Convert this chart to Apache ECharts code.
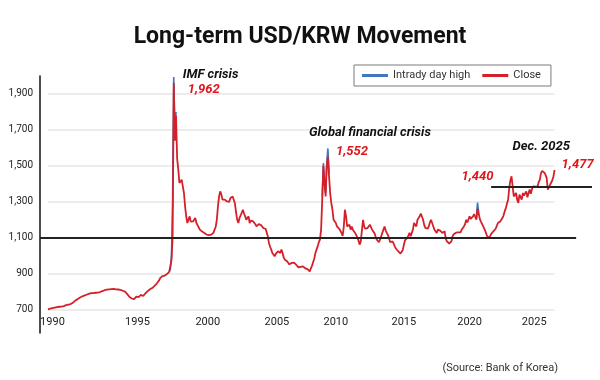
<!DOCTYPE html>
<html><head><meta charset="utf-8">
<script src="https://cdn.jsdelivr.net/npm/echarts@6/dist/echarts.min.js"></script>
<style>html,body{margin:0;padding:0;background:#fff}#c{width:600px;height:380px}</style>
</head><body><div id="c"></div>
<script>
// ---- data ----
// 1990-1997: 14 samples per year (six-day trading weeks give more points per year)
const closePre = [
  702,703,705,706,708,709,711,712,714,715,716,717,717,718,
  720,722,725,727,728,730,731,733,738,745,750,753,758,762,
  766,770,773,776,778,780,783,786,788,790,792,793,792,793,
  794,793,795,797,798,800,803,805,808,810,811,812,813,812,
  814,815,815,814,813,814,812,811,810,808,805,802,800,795,
  786,778,770,765,762,760,758,762,772,768,770,771,782,779,
  776,780,790,800,803,808,813,816,820,826,832,838,845,852,
  862,875,885,887,888,889,892,898,904,910,920,975,1100,1962
];
// monthly closes, Jan 1998 - Dec 2009
const close1998to2009 = [
  1640,1780,1540,1480,1405,1415,1423,1386,1349,1275,1219,1182,
  1200,1219,1190,1182,1191,1200,1210,1182,1170,1163,1145,1138,
  1135,1130,1127,1122,1118,1117,1115,1117,1117,1122,1127,1145,
  1160,1200,1275,1330,1358,1340,1312,1315,1312,1305,1302,1294,
  1300,1321,1326,1330,1330,1290,1240,1200,1182,1210,1225,1238,
  1256,1235,1219,1200,1210,1219,1182,1195,1200,1191,1182,1175,
  1163,1170,1176,1182,1170,1163,1154,1154,1150,1145,1108,1071,
  1050,1034,1015,1006,997,1010,1015,1025,1020,1015,1034,1015,
  990,978,972,969,960,952,950,960,969,962,955,950,
  940,935,932,938,940,941,935,930,932,925,918,913,
  930,945,965,985,1015,1035,1052,1075,1089,1145,1312,1500,
  1400,1330,1500,1552,1442,1349,1294,1256,1200,1190,1182,1163
];
// monthly closes, Jan 2010 - Dec 2025
const close2010to2025 = [
  1163,1150,1140,1127,1110,1160,1256,1219,1163,1170,1173,1145,
  1163,1145,1140,1127,1115,1105,1085,1062,1080,1140,1200,1163,
  1150,1145,1154,1165,1173,1182,1145,1140,1127,1108,1090,1080,
  1075,1089,1108,1127,1145,1163,1140,1127,1115,1108,1075,1071,
  1080,1068,1052,1040,1030,1025,1018,1012,1006,1030,1060,1085,
  1090,1099,1112,1127,1108,1115,1145,1182,1175,1163,1200,1195,
  1219,1235,1225,1200,1170,1155,1145,1150,1163,1185,1200,1195,
  1163,1145,1135,1127,1145,1136,1140,1145,1127,1130,1136,1095,
  1080,1071,1068,1071,1080,1108,1120,1127,1128,1136,1130,1127,
  1130,1145,1155,1163,1175,1200,1185,1182,1219,1205,1200,1219,
  1232,1238,1200,1262,1238,1205,1190,1182,1163,1150,1135,1117,
  1100,1092,1108,1120,1127,1136,1127,1150,1160,1182,1188,1191,
  1200,1210,1225,1247,1265,1290,1312,1377,1420,1442,1386,1330,
  1320,1349,1310,1294,1340,1325,1312,1349,1335,1330,1358,1325,
  1330,1368,1345,1370,1386,1377,1385,1395,1386,1410,1423,1460,
  1472,1479,1462,1450,1433,1368,1380,1395,1405,1420,1442,1477
];
// intraday highs where they stand out above the close
const highDates  = ['1997-p10','1997-p11','1997-p12','1997-p13','1997-p14','1998-01','1998-02',
                    '2008-11','2008-12','2009-01','2009-02','2009-03','2009-04','2009-05',
                    '2020-03','2020-04','2020-05'];
const highValues = [912,925,1000,1300,1995,1700,1800,
                    1330,1515,1420,1350,1520,1597,1460,
                    1210,1296,1245];

const yTicks = [700,900,1100,1300,1500,1700,1900];
const xTickLabels = ['1990','1995','2000','2005','2010','2015','2020','2025'];
const xTickAt     = ['1990-p05','1995-p10','2000-06','2005-07','2009-11','2014-11','2019-09','2024-06'];

const refLevels = [1100, 1385];
const refFrom   = ['1989-p08', '2021-04'];
const refTo     = ['2027-07', '2028-09'];

const annotations = [
  {at:'1997-p14', v:1962, text:'IMF crisis', red:false, pos:[9,-8], align:'left'},
  {at:'1997-p14', v:1962, text:'1,962', red:true, pos:[14,7], align:'left'},
  {at:'2009-04', v:1552, text:'Global financial crisis', red:false, pos:[-19,-24], align:'left'},
  {at:'2009-04', v:1552, text:'1,552', red:true, pos:[8,-5], align:'left'},
  {at:'2022-10', v:1442, text:'1,440', red:true, pos:[-18,0], align:'right'},
  {at:'2025-12', v:1477, text:'Dec. 2025', red:false, pos:[-42,-23], align:'left'},
  {at:'2025-12', v:1477, text:'1,477', red:true, pos:[7,-5], align:'left'}
];

// ---- categories ----
const pad2 = n => String(n).padStart(2,'0');
const padBefore = []; for (let p=8;p<=14;p++) padBefore.push('1989-p'+pad2(p));
const preCats = []; for (let y=1990;y<=1997;y++) for (let p=1;p<=14;p++) preCats.push(y+'-p'+pad2(p));
const monthCats = []; for (let y=1998;y<=2028;y++) for (let m=1;m<=12;m++) monthCats.push(y+'-'+pad2(m));
const postCount = close1998to2009.length + close2010to2025.length;
const axisCats = padBefore.concat(preCats, monthCats.slice(0, monthCats.indexOf(refTo[1])+1));
const dataCats = preCats.concat(monthCats.slice(0, postCount));
const closeAll = closePre.concat(close1998to2009, close2010to2025);
const closeData = dataCats.map((c,k)=>[c, closeAll[k]]);
const highMap = {}; highDates.forEach((d,k)=>{highMap[d]=highValues[k];});
const highData = dataCats.map(c=>[c, highMap[c]!==undefined ? highMap[c] : null]);
const tickMap = {}; xTickAt.forEach((d,k)=>{tickMap[d]=xTickLabels[k];});

const FONT = "Roboto, 'Liberation Sans', sans-serif";
const RED = '#d4202a', BLUE = '#3f78c0';

const chart = echarts.init(document.getElementById('c'), null, {renderer:'canvas'});
chart.setOption({
  animation:false,
  backgroundColor:'#fff',
  title:[
    {text:'Long-term USD/KRW Movement', left:'center', top:21,
     textStyle:{fontFamily:FONT, fontSize:23, fontWeight:'bold', color:'#111'}},
    {text:'(Source: Bank of Korea)', right:37, top:358,
     textStyle:{fontFamily:FONT, fontSize:11, fontWeight:'normal', color:'#333'}}
  ],
  legend:{left:354, top:65, data:['Intrady day high','Close'], icon:'rect',
    itemWidth:26, itemHeight:3, itemGap:12, padding:[5,10,5,8],
    borderColor:'#7a7a7a', borderWidth:1,
    textStyle:{fontFamily:FONT, fontSize:11, color:'#333'}},
  grid:{left:40, right:8, top:76, bottom:47},
  xAxis:{type:'category', data:axisCats, boundaryGap:false,
    axisLine:{show:false}, axisTick:{show:false}, splitLine:{show:false},
    axisLabel:{interval:(i,v)=>tickMap[v]!==undefined, formatter:v=>tickMap[v]||'',
      margin:-16, fontFamily:FONT, fontSize:11, color:'#222'}},
  yAxis:{type:'value', min:570, max:2000,
    axisLine:{show:true, lineStyle:{color:'#111', width:1.5}},
    axisTick:{show:false}, splitLine:{show:false},
    axisLabel:{customValues:yTicks, formatter:v=>v.toLocaleString('en-US'),
      margin:7, fontFamily:FONT, fontSize:10, color:'#222'}},
  series:[
    {name:'Intrady day high', type:'line', data:highData, showSymbol:false, connectNulls:false,
     lineStyle:{color:BLUE, width:1.6}, itemStyle:{color:BLUE}, z:2,
     markLine:{silent:true, symbol:'none', z:1, label:{show:false},
       lineStyle:{color:'#ececec', width:2, type:'solid'},
       data:yTicks.map(v=>[{coord:[dataCats[0], v]},{coord:[dataCats[dataCats.length-1], v]}])}},
    {name:'Close', type:'line', data:closeData, showSymbol:false,
     lineStyle:{color:RED, width:1.8}, itemStyle:{color:RED}, z:3,
     markLine:{silent:true, symbol:'none', z:5, label:{show:false},
       lineStyle:{color:'#222', width:2, type:'solid'},
       data:refLevels.map((v,k)=>[{coord:[refFrom[k], v]},{coord:[refTo[k], v]}])},
     markPoint:{silent:true, z:6,
       data:annotations.map(a=>({coord:[a.at, a.v], symbol:'circle', symbolSize:0,
         itemStyle:{color:'transparent'},
         label:{show:true, formatter:a.text, position:a.pos, align:a.align, verticalAlign:'middle',
           fontFamily:FONT, fontSize:13, fontStyle:'italic', fontWeight:'bold',
           color:a.red ? '#e0161b' : '#111'}}))}}
  ]
});
</script></body></html>
